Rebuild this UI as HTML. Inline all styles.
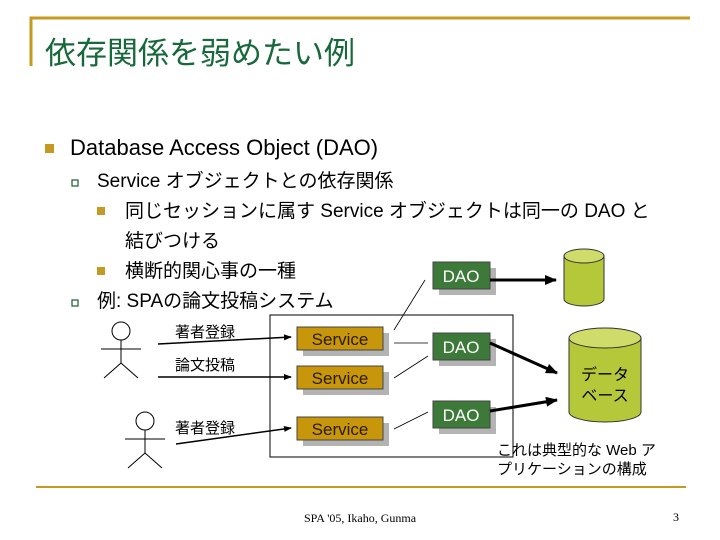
<!DOCTYPE html>
<html><head><meta charset="utf-8"><style>
body{margin:0;background:#fff;}
svg{display:block;}
text{font-family:"Liberation Sans","Noto Sans CJK JP",sans-serif;}
</style></head><body>
<svg width="720" height="540" viewBox="0 0 720 540" xmlns="http://www.w3.org/2000/svg">
<defs>
<marker id="a" markerWidth="8" markerHeight="8" refX="7" refY="4" orient="auto" markerUnits="userSpaceOnUse"><path d="M0,1 L8,4 L0,7z" fill="#000"/></marker>
<marker id="b" markerWidth="12" markerHeight="10" refX="11" refY="5" orient="auto" markerUnits="userSpaceOnUse"><path d="M0,0 L12,5 L0,10z" fill="#000"/></marker>
</defs>
<path d="M31,66 V18 H690" fill="none" stroke="#c49a22" stroke-width="3"/>
<text x="45" y="64" font-size="31" fill="#17683a">依存関係を弱めたい例</text>
<rect x="45" y="144" width="9" height="9" fill="#c49a22"/>
<text x="70" y="155" font-size="22">Database Access Object (DAO)</text>
<rect x="72" y="180" width="6" height="6" fill="none" stroke="#1a5a30" stroke-width="1.2"/>
<text x="97" y="187" font-size="19">Service オブジェクトとの依存関係</text>
<rect x="97" y="207" width="8" height="8" fill="#c49a22"/>
<text x="125" y="217" font-size="19">同じセッションに属す Service オブジェクトは同一の DAO と</text>
<text x="125" y="247" font-size="19">結びつける</text>
<rect x="97" y="267" width="8" height="8" fill="#c49a22"/>
<text x="125" y="277" font-size="19">横断的関心事の一種</text>
<rect x="72" y="300" width="6" height="6" fill="none" stroke="#1a5a30" stroke-width="1.2"/>
<text x="97" y="307" font-size="19">例: SPAの論文投稿システム</text>

<rect x="270" y="315" width="243" height="142" fill="none" stroke="#000" stroke-width="1"/>
<g font-size="17" text-anchor="middle" fill="#2a1a00">
<rect x="303" y="333" width="86" height="23" fill="#b3b3b3"/><rect x="297" y="327" width="86" height="23" fill="#c8960a" stroke="#444"/><text x="340" y="345">Service</text>
<rect x="303" y="372" width="86" height="23" fill="#b3b3b3"/><rect x="297" y="366" width="86" height="23" fill="#c8960a" stroke="#444"/><text x="340" y="384">Service</text>
<rect x="303" y="423" width="86" height="23" fill="#b3b3b3"/><rect x="297" y="417" width="86" height="23" fill="#c8960a" stroke="#444"/><text x="340" y="435">Service</text>
</g>
<g font-size="17" text-anchor="middle" fill="#fff">
<rect x="439" y="268" width="57" height="27" fill="#b3b3b3"/><rect x="433" y="262" width="57" height="27" fill="#3d7a3a" stroke="#444"/><text x="461" y="282">DAO</text>
<rect x="439" y="339" width="57" height="27" fill="#b3b3b3"/><rect x="433" y="333" width="57" height="27" fill="#3d7a3a" stroke="#444"/><text x="461" y="353">DAO</text>
<rect x="439" y="407" width="57" height="27" fill="#b3b3b3"/><rect x="433" y="401" width="57" height="27" fill="#3d7a3a" stroke="#444"/><text x="461" y="421">DAO</text>
</g>
<g stroke="#333" fill="#b5c83a">
<path d="M564,256 V299 A20,7 0 0 0 604,299 V256"/>
<ellipse cx="584" cy="256" rx="20" ry="7" fill="#cfdc6a"/>
<path d="M569,338 V412 A36,10 0 0 0 641,412 V338"/>
<ellipse cx="605" cy="338" rx="36" ry="10" fill="#cfdc6a"/>
</g>
<text x="605" y="380" font-size="16" text-anchor="middle">データ</text>
<text x="605" y="401" font-size="16" text-anchor="middle">ベース</text>
<g stroke="#000" stroke-width="0.8">
<line x1="394" y1="330" x2="425" y2="280"/>
<line x1="394" y1="343" x2="428" y2="343"/>
<line x1="394" y1="378" x2="428" y2="356"/>
<line x1="394" y1="429" x2="428" y2="412"/>
</g>
<g stroke="#000" stroke-width="3">
<line x1="490" y1="280" x2="556" y2="280" marker-end="url(#b)"/>
<line x1="490" y1="343" x2="557" y2="373" marker-end="url(#b)"/>
<line x1="490" y1="411" x2="557" y2="400" marker-end="url(#b)"/>
</g>
<g stroke="#000" stroke-width="1.5">
<line x1="158" y1="344" x2="291" y2="337" marker-end="url(#a)"/>
<line x1="158" y1="377" x2="291" y2="377" marker-end="url(#a)"/>
<line x1="176" y1="444" x2="291" y2="428" marker-end="url(#a)"/>
</g>
<g font-size="15">
<text x="175" y="337">著者登録</text>
<text x="175" y="370">論文投稿</text>
<text x="175" y="433">著者登録</text>
</g>
<g stroke="#000" stroke-width="1" fill="none">
<circle cx="121" cy="331" r="9"/><line x1="121" y1="340" x2="121" y2="363"/><line x1="101" y1="349" x2="141" y2="349"/><line x1="121" y1="363" x2="104" y2="378"/><line x1="121" y1="363" x2="138" y2="378"/>
<circle cx="145" cy="421" r="9"/><line x1="145" y1="430" x2="145" y2="453"/><line x1="125" y1="439" x2="165" y2="439"/><line x1="145" y1="453" x2="128" y2="468"/><line x1="145" y1="453" x2="162" y2="468"/>
</g>
<text x="497" y="455" font-size="15">これは典型的な Web ア</text>
<text x="497" y="474" font-size="15">プリケーションの構成</text>
<line x1="36" y1="487" x2="686" y2="487" stroke="#c49a22" stroke-width="2"/>
<text x="360" y="522" font-size="12" text-anchor="middle" style="font-family:'Liberation Serif',serif">SPA '05, Ikaho, Gunma</text>
<text x="673" y="521" font-size="12" style="font-family:'Liberation Serif',serif">3</text>
</svg>
</body></html>
